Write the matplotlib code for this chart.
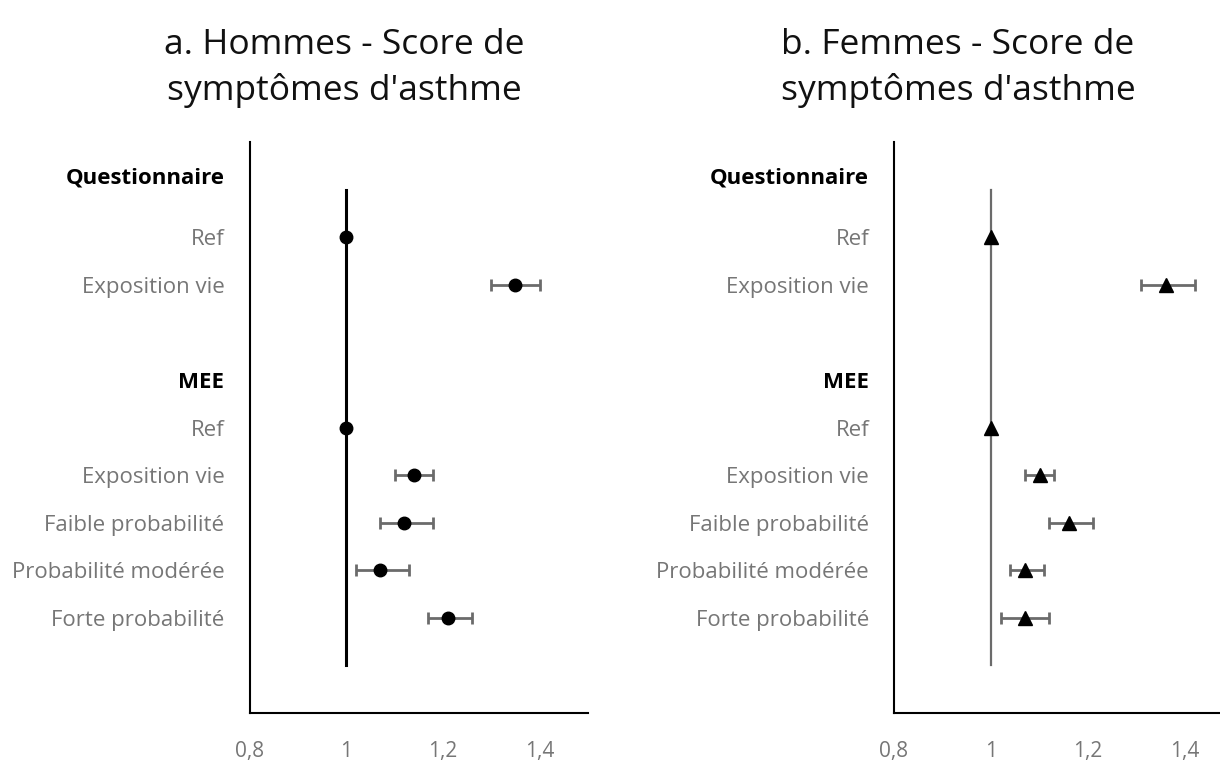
import numpy as np
import matplotlib.pyplot as plt

plt.rcParams['font.family'] = ['Open Sans', 'DejaVu Sans']

# categories (rows from top), header rows in bold
labels = ["Questionnaire", "Ref", "Exposition vie", "MEE", "Ref", "Exposition vie",
          "Faible probabilité", "Probabilité modérée", "Forte probabilité"]
label_pos = [-1.3, 0, 1, 3, 4, 5, 6, 7, 8]
headers = ["Questionnaire", "MEE"]

rows = [0, 1, 4, 5, 6, 7, 8]

# men
h_est = [1.00, 1.35, 1.00, 1.14, 1.12, 1.07, 1.21]
h_low = [1.00, 1.30, 1.00, 1.10, 1.07, 1.02, 1.17]
h_high = [1.00, 1.40, 1.00, 1.18, 1.18, 1.13, 1.26]

# women
f_est = [1.00, 1.36, 1.00, 1.10, 1.16, 1.07, 1.07]
f_low = [1.00, 1.31, 1.00, 1.07, 1.12, 1.04, 1.02]
f_high = [1.00, 1.42, 1.00, 1.13, 1.21, 1.11, 1.12]

xticks = [0.8, 1.0, 1.2, 1.4]
xticklabels = ["0,8", "1", "1,2", "1,4"]

fig = plt.figure(figsize=(12.2, 7.6), dpi=100)
ax1 = fig.add_axes([249.5/1220, 47/760, (588-249.5)/1220, (713-142)/760])
ax2 = fig.add_axes([894/1220, 47/760, (1220-894)/1220, (713-142)/760])

def panel(ax, est, low, high, marker, ms, refcol, refw, xmax):
    est = np.array(est); low = np.array(low); high = np.array(high)
    r = np.array(rows)
    ax.plot([1, 1], [-1, 9], color=refcol, lw=refw, zorder=1)
    mask = est != 1.0
    ax.errorbar(est[mask], r[mask], xerr=[est[mask]-low[mask], high[mask]-est[mask]],
                fmt='none', ecolor='#6b6b6b', elinewidth=2, capsize=4.5, capthick=2, zorder=2)
    ax.plot(est, r, linestyle='none', marker=marker, ms=ms, color='black', zorder=3)
    ax.set_xlim(0.8, xmax)
    ax.set_ylim(10, -2)
    ax.set_xticks(xticks)
    ax.set_xticklabels(xticklabels)
    ax.set_yticks(label_pos)
    ax.set_yticklabels(labels)
    for i, t in enumerate(ax.get_yticklabels()):
        if labels[i] in headers:
            t.set_fontweight('bold')
            t.set_color('black')
        else:
            t.set_color('#767676')
    ax.tick_params(axis='y', length=0, pad=18, labelsize=16)
    ax.tick_params(axis='x', length=0, pad=20, labelsize=15, labelcolor='#767676')
    for s in ['top', 'right']:
        ax.spines[s].set_visible(False)
    for s in ['left', 'bottom']:
        ax.spines[s].set_linewidth(1.5)
        ax.spines[s].set_color('black')

panel(ax1, h_est, h_low, h_high, 'o', 9, 'black', 2.2, 1.5)
panel(ax2, f_est, f_low, f_high, '^', 10, '#6b6b6b', 1.6, 0.8 + (1220-894)/485)

# titles
fig.text(344/1220, 1 - 45/760, "a. Hommes - Score de", ha='center', va='center', fontsize=25.5, color='#111111')
fig.text(344/1220, 1 - 90/760, "symptômes d'asthme", ha='center', va='center', fontsize=25.5, color='#111111')
fig.text(958/1220, 1 - 45/760, "b. Femmes - Score de", ha='center', va='center', fontsize=25.5, color='#111111')
fig.text(958/1220, 1 - 90/760, "symptômes d'asthme", ha='center', va='center', fontsize=25.5, color='#111111')

fig.savefig("out.png", dpi=100)
